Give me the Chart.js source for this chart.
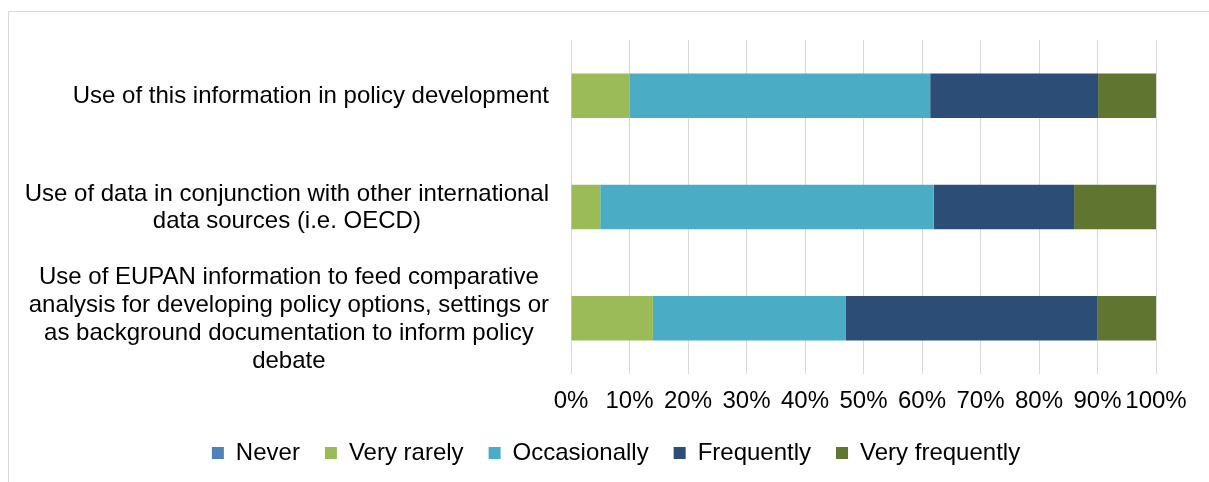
<!DOCTYPE html>
<html>
<head>
<meta charset="utf-8">
<script src="https://cdn.jsdelivr.net/npm/chart.js@4/dist/chart.umd.min.js"></script>
<style>
  html, body { margin: 0; padding: 0; background: #fff; overflow: hidden; }
  #frame { position: absolute; left: 8px; top: 11px; width: 1300px; height: 600px; border: 1px solid #d9d9d9; }
  #wrap { position: absolute; left: 0; top: 0; width: 1209px; height: 482px; }
</style>
</head>
<body>
<div id="frame"></div>
<div id="wrap"><canvas id="myChart"></canvas></div>
<script>
  // categories (each entry = lines of the label)
  const categories = [
    ['Use of this information in policy development'],
    ['Use of data in conjunction with other international', 'data sources (i.e. OECD)'],
    ['Use of EUPAN information to feed comparative', 'analysis for developing policy options, settings or', 'as background documentation to inform policy', 'debate']
  ];
  const never = [0, 0, 0];
  const veryRarely = [10, 5, 14];
  const occasionally = [51.4, 57, 33];
  const frequently = [28.7, 24, 43];
  const veryFrequently = [9.9, 14, 10];
  const xTicks = [0, 10, 20, 30, 40, 50, 60, 70, 80, 90, 100];

  const fontFamily = '"Liberation Sans", Arial, sans-serif';
  const textColor = '#000';

  // draws the category labels: block right aligned, lines centered inside block
  const catLabels = {
    id: 'catLabels',
    afterDraw(chart) {
      const ctx = chart.ctx;
      const yScale = chart.scales.y;
      const right = 549;
      const lh = 27.7;
      ctx.save();
      ctx.font = '24px ' + fontFamily;
      ctx.fillStyle = textColor;
      ctx.textAlign = 'center';
      ctx.textBaseline = 'middle';
      categories.forEach((lines, i) => {
        const y = yScale.getPixelForTick(i) + 1;
        const maxW = Math.max(...lines.map(l => ctx.measureText(l).width));
        const cx = right - maxW / 2;
        lines.forEach((l, j) => {
          ctx.fillText(l, cx, y + (j - (lines.length - 1) / 2) * lh);
        });
      });
      ctx.restore();
    }
  };

  const ds = (label, data, color) => ({
    label: label,
    data: data,
    backgroundColor: color,
    borderWidth: 0,
    barPercentage: 0.4,
    categoryPercentage: 1.0
  });

  const ctx = document.getElementById('myChart').getContext('2d');
  new Chart(ctx, {
    type: 'bar',
    data: {
      labels: categories.map(c => c.join(' ')),
      datasets: [
        ds('Never', never, '#4f81bd'),
        ds('Very rarely', veryRarely, '#9bbb59'),
        ds('Occasionally', occasionally, '#4bacc6'),
        ds('Frequently', frequently, '#2c4d75'),
        ds('Very frequently', veryFrequently, '#5f7530')
      ]
    },
    options: {
      indexAxis: 'y',
      responsive: true,
      maintainAspectRatio: false,
      animation: false,
      layout: { padding: { left: 76, top: 40, right: 53, bottom: 7 } },
      plugins: {
        tooltip: { enabled: false },
        legend: {
          position: 'bottom',
          labels: {
            color: textColor,
            font: { family: fontFamily, size: 24 },
            boxWidth: 12,
            boxHeight: 12,
            padding: 25
          }
        }
      },
      scales: {
        x: {
          stacked: true,
          min: 0,
          max: 100,
          afterBuildTicks(scale) { scale.ticks = xTicks.map(v => ({ value: v })); },
          afterFit(scale) { scale.height = 42; },
          grid: { color: '#d9d9d9', lineWidth: 1, drawTicks: false },
          border: { display: false },
          ticks: {
            color: textColor,
            font: { family: fontFamily, size: 24 },
            padding: 13,
            maxRotation: 0,
            autoSkip: false,
            callback: v => v + '%'
          }
        },
        y: {
          stacked: true,
          afterFit(scale) { scale.width = 571 - 76; },
          grid: { display: false },
          border: { display: false },
          ticks: { display: false }
        }
      }
    },
    plugins: [catLabels]
  });
</script>
</body>
</html>
